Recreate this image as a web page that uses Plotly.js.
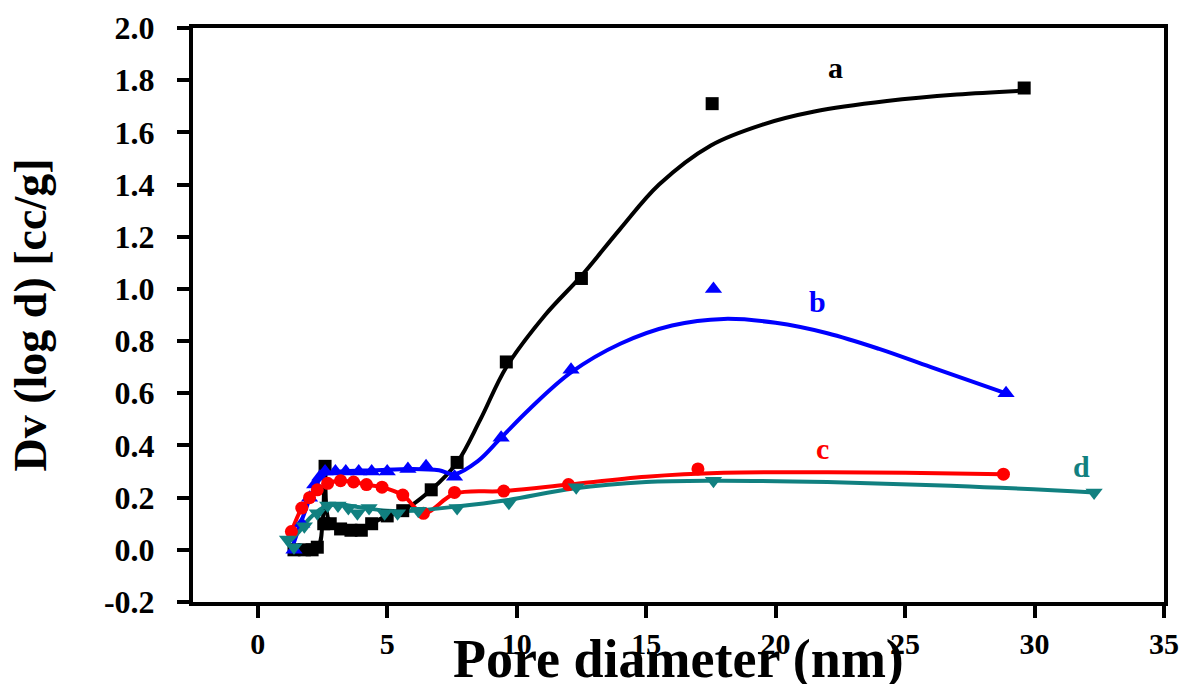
<!DOCTYPE html>
<html>
<head>
<meta charset="utf-8">
<script src="https://cdn.plot.ly/plotly-3.0.1.min.js"></script>
<style>html,body{margin:0;padding:0;background:#fff;}#chart{width:1191px;height:684px;}</style>
</head>
<body>
<div id="chart"></div>
<script>
// ---- Data ----
// Series a (black squares)
const aX = [1.4, 1.8, 2.1, 2.3, 2.55, 2.6, 2.8, 3.2, 3.6, 4.0, 4.4, 5.0, 5.6, 6.7, 7.7, 9.6, 12.5, 17.55, 29.6];
const aY = [0.0, 0.0, 0.0, 0.01, 0.10, 0.32, 0.10, 0.08, 0.075, 0.075, 0.10, 0.13, 0.15, 0.23, 0.335, 0.72, 1.04, 1.71, 1.77];
// fitted curve a
const aFitX = [1.3, 2.3, 2.5, 2.6, 2.8, 3.5, 4.0, 4.4, 5.0, 5.6, 6.7, 7.7, 8.6, 9.6, 11.1, 12.5, 14.0, 15.5, 17.5, 19.5, 21.5, 24.3, 27.0, 29.6];
const aFitY = [0.0, 0.01, 0.10, 0.30, 0.10, 0.075, 0.075, 0.10, 0.13, 0.15, 0.23, 0.335, 0.50, 0.70, 0.90, 1.05, 1.23, 1.40, 1.55, 1.63, 1.68, 1.72, 1.745, 1.76];

// Series b (blue up-triangles)
const bX = [1.4, 1.7, 2.0, 2.2, 2.4, 2.6, 3.0, 3.4, 3.9, 4.4, 5.0, 5.8, 6.5, 7.6, 9.4, 12.1, 17.6, 28.9];
const bY = [0.0, 0.10, 0.20, 0.25, 0.28, 0.30, 0.30, 0.30, 0.30, 0.30, 0.30, 0.31, 0.32, 0.28, 0.43, 0.69, 1.00, 0.60];
const bFitX = [1.3, 1.8, 2.2, 2.6, 3.2, 4.5, 6.0, 7.0, 7.6, 8.5, 9.4, 10.5, 12.1, 14.0, 16.0, 18.0, 20.0, 22.0, 24.0, 26.0, 28.9];
const bFitY = [0.0, 0.14, 0.24, 0.29, 0.30, 0.305, 0.31, 0.305, 0.29, 0.34, 0.43, 0.54, 0.68, 0.79, 0.86, 0.885, 0.87, 0.83, 0.77, 0.70, 0.60];

// Series c (red circles)
const cX = [1.3, 1.7, 2.0, 2.3, 2.7, 3.2, 3.7, 4.2, 4.8, 5.6, 6.4, 7.6, 9.5, 12.0, 17.0, 28.8];
const cY = [0.07, 0.16, 0.20, 0.23, 0.255, 0.265, 0.26, 0.25, 0.24, 0.21, 0.14, 0.22, 0.225, 0.25, 0.31, 0.29];
const cFitX = [1.3, 1.7, 2.0, 2.3, 2.7, 3.2, 3.7, 4.2, 4.8, 5.6, 6.4, 7.6, 9.5, 12.0, 15.0, 18.0, 22.0, 25.0, 28.8];
const cFitY = [0.07, 0.16, 0.20, 0.23, 0.255, 0.265, 0.26, 0.25, 0.24, 0.21, 0.14, 0.215, 0.225, 0.25, 0.28, 0.295, 0.297, 0.295, 0.29];

// Series d (teal down-triangles)
const dX = [1.15, 1.4, 1.8, 2.3, 2.7, 3.1, 3.5, 3.85, 4.3, 4.9, 5.4, 6.2, 7.7, 9.7, 12.3, 17.6, 32.3];
const dY = [0.04, 0.01, 0.09, 0.14, 0.17, 0.17, 0.16, 0.14, 0.16, 0.14, 0.14, 0.15, 0.16, 0.18, 0.24, 0.265, 0.22];
const dFitX = [1.2, 1.6, 2.0, 2.5, 3.0, 3.8, 5.0, 6.0, 7.6, 9.6, 12.2, 15.0, 17.6, 22.0, 27.0, 32.3];
const dFitY = [0.03, 0.07, 0.12, 0.16, 0.175, 0.165, 0.15, 0.15, 0.165, 0.19, 0.235, 0.26, 0.265, 0.26, 0.245, 0.22];

const seriesLabels = ['a', 'b', 'c', 'd'];
const labelX = [22.3, 21.6, 21.8, 31.8];
const labelY = [1.85, 0.95, 0.39, 0.32];
const xTicks = [0, 5, 10, 15, 20, 25, 30, 35];
const yTicks = [-0.2, 0.0, 0.2, 0.4, 0.6, 0.8, 1.0, 1.2, 1.4, 1.6, 1.8, 2.0];
const xTitle = 'Pore diameter (nm)';
const yTitle = 'Dv (log d) [cc/g]';

const colors = ['#000000', '#0000ff', '#ff0000', '#118080'];
const font = '"Liberation Serif", "Times New Roman", serif';

function fit(x, y, c) {
  return {x: x, y: y, mode: 'lines', type: 'scatter', line: {color: c, width: 4, shape: 'spline', smoothing: 1.0}, hoverinfo: 'skip', showlegend: false};
}
function pts(x, y, c, sym, size) {
  return {x: x, y: y, mode: 'markers', type: 'scatter', marker: {color: c, symbol: sym, size: size}, showlegend: false};
}

const data = [
  fit(aFitX, aFitY, colors[0]), fit(bFitX, bFitY, colors[1]), fit(cFitX, cFitY, colors[2]), fit(dFitX, dFitY, colors[3]),
  pts(aX, aY, colors[0], 'square', 13),
  pts(bX, bY, colors[1], 'triangle-up', 15),
  pts(cX, cY, colors[2], 'circle', 13),
  pts(dX, dY, colors[3], 'triangle-down', 15)
];

const annotations = seriesLabels.map((t, i) => ({
  x: labelX[i], y: labelY[i], xref: 'x', yref: 'y', text: t, showarrow: false,
  font: {family: font, size: 30, color: colors[i], weight: 'bold'}
}));
annotations.push({
  x: 0.5, y: -0.1, xref: 'paper', yref: 'paper', xanchor: 'center', yanchor: 'middle',
  text: xTitle, showarrow: false,
  font: {family: font, size: 54, color: '#000', weight: 'bold'}
});

const layout = {
  width: 1191, height: 684,
  margin: {l: 193, r: 27, t: 28, b: 82},
  paper_bgcolor: '#fff', plot_bgcolor: '#fff',
  showlegend: false,
  xaxis: {
    range: [-2.5, 35], tickvals: xTicks, ticktext: xTicks.map(String),
    showgrid: false, zeroline: false, showline: true, linecolor: '#000', linewidth: 4, mirror: true,
    ticks: 'outside', ticklen: 12, tickwidth: 4, tickcolor: '#000',
    tickfont: {family: font, size: 30, color: '#000', weight: 'bold'},
    automargin: false
  },
  yaxis: {
    range: [-0.2, 2.0], tickvals: yTicks, ticktext: yTicks.map(v => v.toFixed(1)),
    showgrid: false, zeroline: false, showline: true, linecolor: '#000', linewidth: 4, mirror: true,
    ticks: 'outside', ticklen: 12, tickwidth: 4, tickcolor: '#000', ticklabelstandoff: 16,
    tickfont: {family: font, size: 32, color: '#000', weight: 'bold'},
    title: {text: yTitle, font: {family: font, size: 46, color: '#000', weight: 'bold'}, standoff: 44},
    automargin: false
  },
  annotations: annotations
};

Plotly.newPlot('chart', data, layout, {displayModeBar: false, staticPlot: true});
</script>
</body>
</html>
